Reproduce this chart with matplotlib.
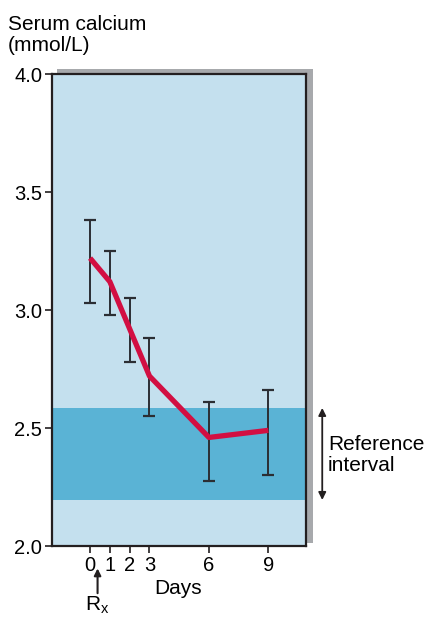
import matplotlib
matplotlib.use("Agg")
import matplotlib.pyplot as plt
from matplotlib.patches import Rectangle

plt.rcParams['font.family'] = ['Liberation Sans', 'DejaVu Sans']

# data
days = [0, 1, 2, 3, 6, 9]
calcium = [3.22, 3.12, 2.92, 2.72, 2.46, 2.49]
err_hi = [3.38, 3.25, 3.05, 2.88, 2.61, 2.66]
err_lo = [3.03, 2.98, 2.78, 2.55, 2.275, 2.30]
ref_low, ref_high = 2.195, 2.585
y_ticks = [2.0, 2.5, 3.0, 3.5, 4.0]

W, H = 425, 617
fig = plt.figure(figsize=(W / 100, H / 100), dpi=100)

# drop shadow behind the plot box
fig.patches.append(Rectangle((57 / W, 74 / H), (313 - 57) / W, (548 - 74) / H,
                             transform=fig.transFigure, facecolor='#a7a9ac',
                             edgecolor='none', zorder=0))

ax = fig.add_axes([52 / W, 71 / H, (306 - 52) / W, (543 - 71) / H])
ax.set_zorder(2)
ax.set_facecolor('#c4e0ee')
ax.set_xlim(-1.92, 10.9)
ax.set_ylim(2.0, 4.0)

ax.axhspan(ref_low, ref_high, color='#5ab3d5', lw=0, zorder=1)

lo = [c - l for c, l in zip(calcium, err_lo)]
hi = [h - c for c, h in zip(calcium, err_hi)]
ax.errorbar(days, calcium, yerr=[lo, hi], fmt='none', ecolor='#2b2e33',
            elinewidth=1.4, capsize=4, capthick=1.6, zorder=2)
ax.plot(days, calcium, color='#d20f42', lw=3.8, solid_capstyle='butt', zorder=3)

for s in ax.spines.values():
    s.set_linewidth(1.6)
    s.set_color('#231f20')

ax.set_yticks(y_ticks)
ax.set_yticklabels(['%.1f' % v for v in y_ticks])
ax.set_xticks(days)
ax.set_xticklabels([str(d) for d in days])
ax.tick_params(direction='out', length=5, width=1.2, labelsize=14.5, pad=2, color='#231f20')

fig.text(8 / W, 1 - 15 / H, 'Serum calcium\n(mmol/L)', fontsize=15,
         va='top', ha='left', linespacing=1.12)

ax.text(4.44, 1.822, 'Days', fontsize=15, ha='center', va='center', clip_on=False)

# Rx marker under day 0
ax.annotate('', xy=(0.38, 1.905), xytext=(0.38, 1.80),
            arrowprops=dict(arrowstyle='-|>', color='#231f20', lw=1.5,
                            mutation_scale=10, shrinkA=0, shrinkB=0),
            annotation_clip=False)
ax.text(0.38, 1.75, r'$\mathregular{R_x}$', fontsize=15, ha='center', va='center',
        clip_on=False)

# reference interval label
ax.annotate('', xy=(11.72, ref_high), xytext=(11.72, ref_low),
            arrowprops=dict(arrowstyle='<|-|>', color='#231f20', lw=1.3,
                            mutation_scale=11, shrinkA=0, shrinkB=0),
            annotation_clip=False)
ax.text(12.0, 2.385, 'Reference\ninterval', fontsize=15, ha='left', va='center',
        linespacing=1.1, clip_on=False)

fig.savefig('out.png', dpi=100)
